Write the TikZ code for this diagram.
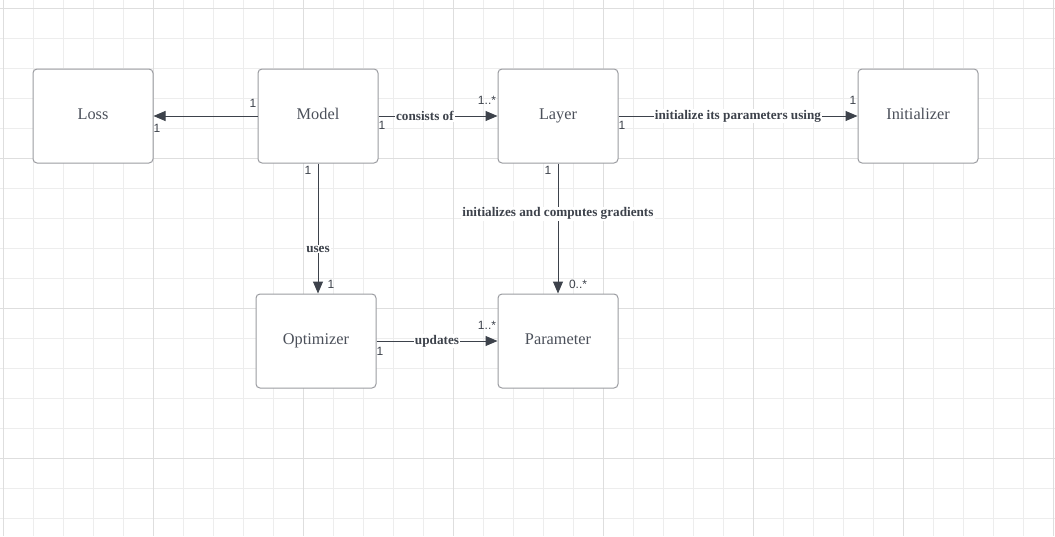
\documentclass[tikz,border=0pt]{standalone}
\usepackage{fontspec}
\setmainfont{Liberation Serif}
\setsansfont{Liberation Sans}
\usetikzlibrary{arrows.meta}
\definecolor{gridlt}{HTML}{EDEDED}
\definecolor{griddk}{HTML}{DEDEDE}
\definecolor{boxedge}{HTML}{9B9CA1}
\definecolor{boxtext}{HTML}{4B505A}
\definecolor{linkdk}{HTML}{3D424B}
\tikzset{
  classbox/.style = {rectangle, rounded corners=4pt, draw=boxedge, line width=1pt,
                     fill=white, minimum width=120pt, minimum height=94pt,
                     inner sep=0pt, text height=10.6pt, text depth=3.5pt,
                     font=\fontsize{16.3}{18}\selectfont, text=boxtext},
  link/.style     = {draw=linkdk, line width=1pt,
                     -{Triangle[length=12pt, width=10pt]}},
  linklab/.style  = {fill=white, inner sep=1pt, text=linkdk,
                     font=\bfseries\fontsize{13.2}{15}\selectfont},
  mult/.style     = {font=\sffamily\fontsize{12}{14}\selectfont, text=linkdk,
                     inner sep=0pt},
}

\begin{document}
\begin{tikzpicture}[x=1pt, y=-1pt]
  \useasboundingbox (0,0) rectangle (1055,536);
  \fill[white] (0,0) rectangle (1055,536);
  % grid
  \foreach \gx in {3,33,...,1053}{\draw[gridlt, line width=1pt] (\gx,0) -- (\gx,536);}
  \foreach \gy in {8,38,...,518}{\draw[gridlt, line width=1pt] (0,\gy) -- (1055,\gy);}
  \foreach \gx in {3,153,...,1053}{\draw[griddk, line width=1pt] (\gx,0) -- (\gx,536);}
  \foreach \gy in {8,158,...,458}{\draw[griddk, line width=1pt] (0,\gy) -- (1055,\gy);}
  % classes
  \node[classbox] (loss)  at (93,116)  {Loss};
  \node[classbox] (model) at (318,116) {Model};
  \node[classbox] (layer) at (558,116) {Layer};
  \node[classbox] (init)  at (918,116) {Initializer};
  \node[classbox] (optim) at (316,341) {Optimizer};
  \node[classbox] (param) at (558,341) {Parameter};
  % associations
  \draw[link] (model.west) -- (loss.east);
  \draw[link] (model.east) -- (layer.west)
    node[pos=0.39, linklab] (consists) {consists of};
  \draw[link] (layer.east) -- (init.west)
    node[pos=0.5, linklab] (initusing) {initialize its parameters using};
  \draw[link] (model.south) -- (model.south |- optim.north)
    node[pos=0.66, linklab] (uses) {uses};
  \draw[link] (layer.south) -- (param.north)
    node[pos=0.385, linklab] (grads) {initializes and computes gradients};
  \draw[link] (optim.east) -- (param.west)
    node[pos=0.5, linklab] (updates) {updates};
  % multiplicities
  \node[mult] (m1) at (253,103) {1};
  \node[mult] (m2) at (157,128) {1};
  \node[mult] (m3) at (382,125) {1};
  \node[mult] (m4) at (487,100) {1..*};
  \node[mult] (m5) at (622,125) {1};
  \node[mult] (m6) at (853,100) {1};
  \node[mult] (m7) at (308,170) {1};
  \node[mult] (m8) at (331,284) {1};
  \node[mult] (m9) at (548,170) {1};
  \node[mult] (m10) at (578,284) {0..*};
  \node[mult] (m11) at (380,351) {1};
  \node[mult] (m12) at (487,325) {1..*};
\end{tikzpicture}
\end{document}
